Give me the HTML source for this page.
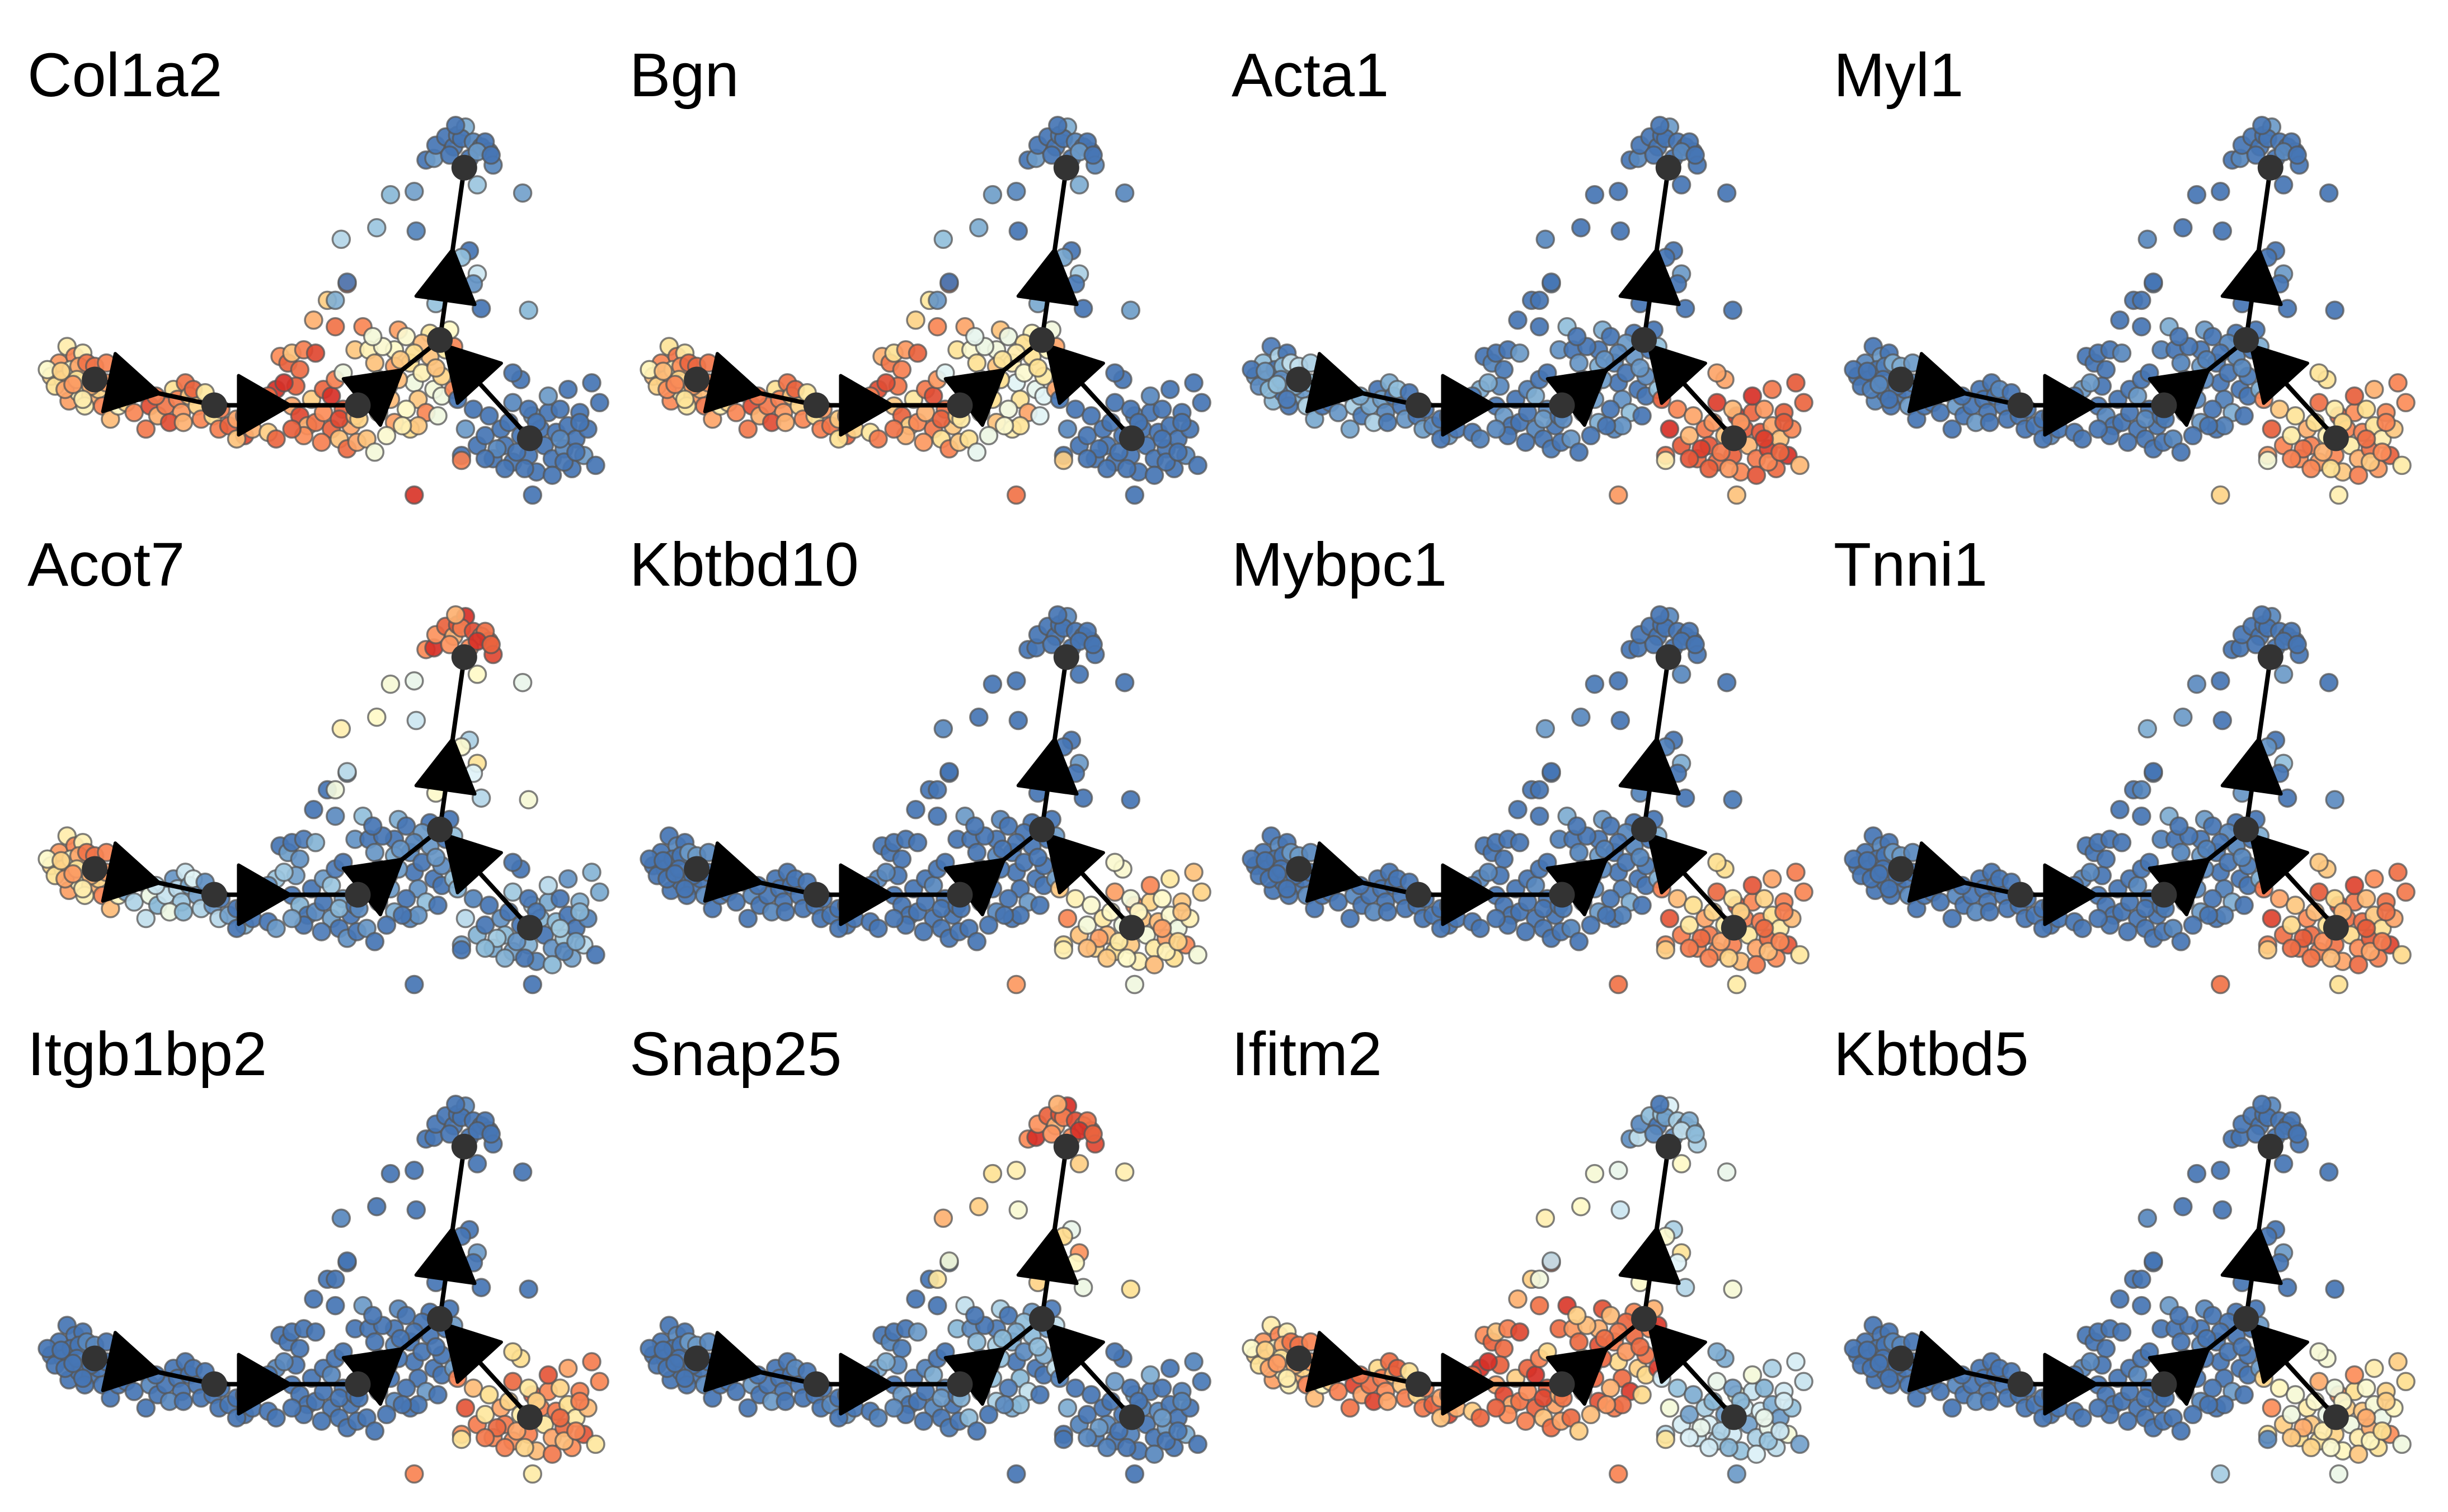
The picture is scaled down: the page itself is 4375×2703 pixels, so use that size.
<!DOCTYPE html>
<html><head><meta charset="utf-8"><style>
html,body{margin:0;padding:0;background:#fff;}
svg{display:block;}
text{font-family:"Liberation Sans",sans-serif;}
</style></head><body>
<svg id="chart" width="4375" height="2703" viewBox="0 0 4375 2703" xmlns="http://www.w3.org/2000/svg"></svg>
<script>
const genes = ["Col1a2","Bgn","Acta1","Myl1","Acot7","Kbtbd10","Mybpc1","Tnni1","Itgb1bp2","Snap25","Ifitm2","Kbtbd5"];
const clusterNames = ["L","M1","M2","Cn","U","T","R","X"];
// expression level per cluster (0 = low/blue, 1 = high/red) for each gene
const levels = [
 [0.64,0.74,0.8,0.58,0.12,-0.05,-0.1,0.95],
 [0.68,0.74,0.74,0.52,0.05,-0.05,-0.15,0.8],
 [0.1,0.05,-0.05,0.0,-0.1,-0.1,0.82,0.7],
 [-0.05,-0.1,-0.1,-0.05,-0.1,-0.1,0.7,0.6],
 [0.64,0.22,0.02,0.0,0.4,0.85,0.08,-0.1],
 [-0.1,-0.15,-0.15,-0.1,-0.1,-0.15,0.58,0.7],
 [-0.1,-0.15,-0.15,-0.05,-0.05,-0.15,0.72,0.8],
 [-0.1,-0.15,-0.15,-0.05,0.0,-0.15,0.76,0.8],
 [-0.15,-0.15,-0.15,-0.1,-0.1,-0.15,0.72,0.75],
 [-0.1,-0.1,-0.05,0.1,0.55,0.85,-0.05,-0.1],
 [0.64,0.76,0.8,0.78,0.4,0.15,0.25,0.75],
 [-0.15,-0.15,-0.15,-0.1,-0.1,-0.15,0.56,0.2]
];
const variation = [0,0.1,-0.08,0.15,-0.1,0.04,-0.15,0.08,0.2,-0.04,0.09,-0.13,0.06];
// embedding coordinates (shared across panels), grouped by cluster
const cellsL = [[130,1140],[150,1100],[170,1050],[190,1080],[210,1070],[160,1150],[180,1120],[200,1110],[220,1100],[140,1170],[175,1215],[200,1190],[230,1200],[250,1180],[270,1160],[290,1200],[260,1230],[215,1230],[280,1270],[120,1120],[165,1180],[240,1110],[195,1150],[245,1140],[300,1230],[230,1170],[155,1125],[185,1165],[210,1210],[270,1100]];
const cellsM1 = [[320,1220],[340,1250],[360,1190],[370,1300],[380,1230],[400,1260],[420,1230],[440,1180],[450,1210],[460,1250],[470,1160],[480,1200],[490,1180],[500,1230],[510,1270],[520,1190],[345,1180],[430,1280],[465,1280],[395,1200],[540,1260],[555,1300]];
const cellsM2 = [[560,1240],[580,1290],[600,1270],[620,1320],[640,1300],[660,1250],[680,1310],[700,1330],[700,1180],[710,1080],[730,1100],[740,1070],[760,1120],[770,1060],[750,1170],[740,1230],[760,1260],[780,1290],[800,1280],[790,1210],[820,1180],[840,1200],[820,1250],[840,1300],[860,1330],[880,1360],[850,1150],[870,1240],[890,1290],[800,1070],[795,970],[850,990],[830,910],[880,860],[720,1160],[770,1320],[640,1230],[600,1330],[680,1200],[815,1340],[740,1300],[905,1340],[860,1270],[900,1260],[620,1260]];
const cellsCn = [[870,1130],[900,1060],[920,990],[935,1060],[950,1100],[960,1150],[940,1200],[960,1250],[990,1210],[1000,1060],[1010,1000],[1030,1020],[1040,1100],[1050,1160],[1060,1210],[1080,1250],[1070,1130],[1090,1080],[1100,1180],[1120,1140],[1130,1060],[1010,1150],[1030,1240],[1000,1280],[980,1320],[1040,1300],[1110,1260],[1060,1290],[1150,1050],[1020,1290],[930,1330],[950,1370],[910,1270],[1090,1010],[1070,1040],[1140,1000],[1000,1110],[970,1050],[1050,1070],[1120,1200],[1015,1090],[1150,1180],[985,1170],[1105,1115],[945,1020]];
const cellsU = [[990,590],[1050,580],[955,690],[1055,700],[865,725],[880,855],[850,910],[1190,760],[1170,780],[1210,830],[1200,860],[1105,920],[1220,935],[1340,940],[1325,585],[1210,560]];
const cellsT = [[1080,485],[1100,480],[1105,440],[1130,415],[1150,445],[1160,410],[1180,385],[1170,420],[1200,430],[1220,445],[1240,460],[1230,430],[1250,500],[1190,480],[1210,460],[1140,470],[1245,470],[1155,380]];
const cellsR = [[1160,1210],[1180,1300],[1200,1240],[1210,1350],[1230,1320],[1250,1390],[1270,1300],[1280,1350],[1290,1280],[1300,1220],[1320,1150],[1300,1400],[1320,1320],[1340,1380],[1350,1260],[1360,1430],[1370,1300],[1380,1350],[1390,1250],[1400,1390],[1410,1310],[1420,1240],[1430,1360],[1440,1290],[1450,1420],[1460,1330],[1470,1250],[1480,1380],[1490,1300],[1500,1160],[1510,1410],[1520,1220],[1440,1180],[1400,1440],[1330,1420],[1260,1360],[1240,1260],[1170,1380],[1350,1500],[1280,1420],[1390,1200],[1430,1400],[1470,1280],[1340,1240],[1460,1370],[1310,1370],[1230,1390],[1360,1280],[1420,1330],[1300,1130]];
const cellsX = [[1050,1500],[1170,1395]];
const nodeX = [240,543,907,1115,1177,1343];
const nodeY = [1150,1228,1228,1030,508,1328];
const edgeFrom = [0,1,2,3,5];
const edgeTo =   [1,2,3,4,3];
const arrowPos = [0.12,0.17,0.05,0.23,0.56];

const svg = document.getElementById('chart');
const NS = 'http://www.w3.org/2000/svg';
const colW = 1076, rowH = 875, kx = 0.705, ky = 0.59;
function xScale(col,u){return col*colW + u*kx;}
function yScale(row,v){return row*rowH + v*ky;}
const stops=[[0,[69,117,180]],[0.2,[145,191,219]],[0.36,[224,243,248]],[0.5,[255,250,200]],[0.62,[254,224,144]],[0.76,[252,141,89]],[0.9,[232,96,60]],[1,[215,48,39]]];
function colorOf(t){t=Math.max(0,Math.min(1,t));for(let i=1;i<stops.length;i++){if(t<=stops[i][0]){const a=stops[i-1],b=stops[i];const f=(t-a[0])/(b[0]-a[0]);return 'rgb('+a[1].map((c,k)=>Math.round(c+(b[1][k]-c)*f)).join(',')+')';}}return 'rgb(215,48,39)';}
function mk(tag,parent){const e=document.createElementNS(NS,tag);parent.appendChild(e);return e;}
const groups=[cellsL,cellsM1,cellsM2,cellsCn,cellsU,cellsT,cellsR,cellsX];

genes.forEach((g,gi)=>{
  const col=gi%4,row=Math.floor(gi/4);
  const pg=mk('g',svg);
  
  
  const t=mk('text',pg);
  
  
  t.setAttribute('x',col*colW+49);t.setAttribute('y',row*rowH+172);
  t.setAttribute('font-size','110');t.setAttribute('fill','#000');
  t.textContent=g;
  let idx=0;
  groups.forEach((cells,ci)=>{
    cells.forEach(p=>{
      const val=levels[gi][ci]+variation[idx%variation.length];
      idx++;
      const c=mk('circle',pg);
      
      
      c.setAttribute('cx',xScale(col,p[0]).toFixed(1));
      c.setAttribute('cy',yScale(row,p[1]).toFixed(1));
      c.setAttribute('r','15.5');
      c.setAttribute('fill',colorOf(val));
      c.setAttribute('fill-opacity','0.92');
      c.setAttribute('stroke','#555');c.setAttribute('stroke-opacity','0.75');c.setAttribute('stroke-width','3.5');
    });
  });
  edgeFrom.forEach((a,ei)=>{
    const b=edgeTo[ei];
    const x1=xScale(col,nodeX[a]),y1=yScale(row,nodeY[a]),x2=xScale(col,nodeX[b]),y2=yScale(row,nodeY[b]);
    const l=mk('line',pg);
    
    
    l.setAttribute('x1',x1);l.setAttribute('y1',y1);l.setAttribute('x2',x2);l.setAttribute('y2',y2);
    l.setAttribute('stroke','#000');l.setAttribute('stroke-width','8');
    const dx=x2-x1,dy=y2-y1,len=Math.hypot(dx,dy),ux=dx/len,uy=dy/len;
    const bx=x1+dx*arrowPos[ei],by=y1+dy*arrowPos[ei];
    const L=92,W=53;
    const pts=[[bx+ux*L,by+uy*L],[bx-uy*W,by+ux*W],[bx+uy*W,by-ux*W]];
    const ar=mk('polygon',pg);
    
    
    ar.setAttribute('points',pts.map(q=>q[0].toFixed(1)+','+q[1].toFixed(1)).join(' '));
    ar.setAttribute('fill','#000');
    ar.setAttribute('stroke','#000');ar.setAttribute('stroke-width','6');ar.setAttribute('stroke-linejoin','round');
  });
  nodeX.forEach((nx,ni)=>{
    const n=mk('circle',pg);
    
    
    n.setAttribute('cx',xScale(col,nx));n.setAttribute('cy',yScale(row,nodeY[ni]));
    n.setAttribute('r','23');n.setAttribute('fill','#333');
  });
});
</script>
</body></html>
